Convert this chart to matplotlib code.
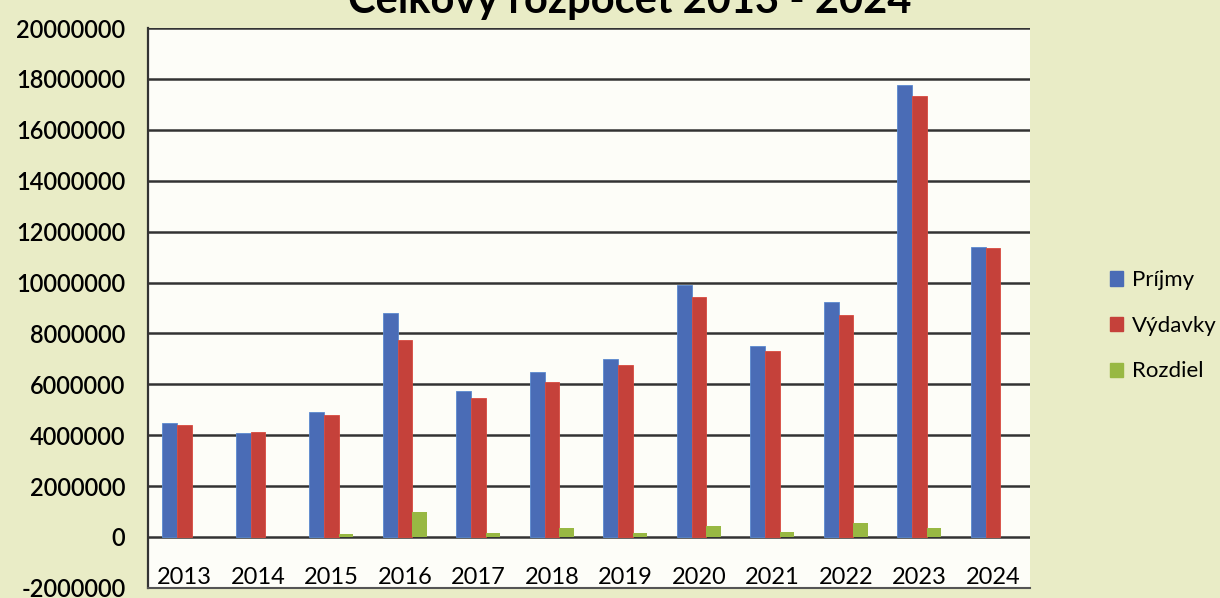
import numpy as np
import matplotlib.pyplot as plt
from matplotlib.patches import Patch

# Rok, príjmy, výdavky a rozdiel (EUR), odčítané z grafu
years = ['2013', '2014', '2015', '2016', '2017', '2018',
         '2019', '2020', '2021', '2022', '2023', '2024']
prijmy = [4490000, 4100000, 4900000, 8800000, 5730000, 6480000,
          7000000, 9900000, 7500000, 9250000, 17750000, 11400000]
vydavky = [4410000, 4140000, 4800000, 7750000, 5470000, 6090000,
           6740000, 9450000, 7290000, 8740000, 17350000, 11350000]
rozdiel = [0, 0, 100000, 980000, 170000, 350000,
           150000, 440000, 200000, 560000, 350000, 0]
y_ticks = np.arange(-2000000, 20000001, 2000000)

plt.rcParams['font.family'] = ['Lato', 'DejaVu Sans']

fig = plt.figure(figsize=(12.2, 5.98), dpi=100, facecolor='#e9ecc6')
ax = fig.add_axes([0.121, 0.017, 0.723, 0.936], facecolor='#fdfdf8')

x = np.arange(len(years))
w = 0.2
ax.bar(x - w, prijmy, w, color='#4a6cb6', edgecolor='#5b8ad0', lw=0.6, zorder=3)
ax.bar(x, vydavky, w, color='#c5413a', edgecolor='#d84a3f', lw=0.6, zorder=3)
ax.bar(x + w, rozdiel, w, color='#98b843', lw=0, zorder=3)

ax.set_xlim(-0.5, len(years) - 0.5)
ax.set_ylim(-2000000, 20000000)
ax.set_yticks(y_ticks)
ax.set_yticklabels([str(v) for v in y_ticks], fontsize=17, fontweight='semibold')
ax.set_xticks(x)
ax.set_xticklabels(years, fontsize=17)
ax.tick_params(axis='x', length=0, pad=-15)
ax.tick_params(axis='y', length=0, pad=16)

for v in y_ticks[1:]:
    ax.axhline(v, color='#333333', lw=1.8, zorder=2)

for spine in ('top', 'right'):
    ax.spines[spine].set_visible(False)
ax.spines['left'].set_color('#333333')
ax.spines['left'].set_linewidth(1.6)
ax.spines['bottom'].set_color('#555555')
ax.spines['bottom'].set_linewidth(1.5)

handles = [Patch(color='#4a6cb6', label='Príjmy'),
           Patch(color='#c5413a', label='Výdavky'),
           Patch(color='#98b843', label='Rozdiel')]
fig.legend(handles=handles, loc='center left', bbox_to_anchor=(0.897, 0.455),
           frameon=False, fontsize=16, handlelength=0.6, handleheight=0.6,
           handletextpad=0.4, labelspacing=1.15, borderpad=0.2)

fig.text(0.516, 1.03, 'Celkový rozpočet 2013 - 2024', ha='center', va='top',
         fontsize=30, fontweight='bold')

fig.savefig('out.png', dpi=100, facecolor=fig.get_facecolor())
